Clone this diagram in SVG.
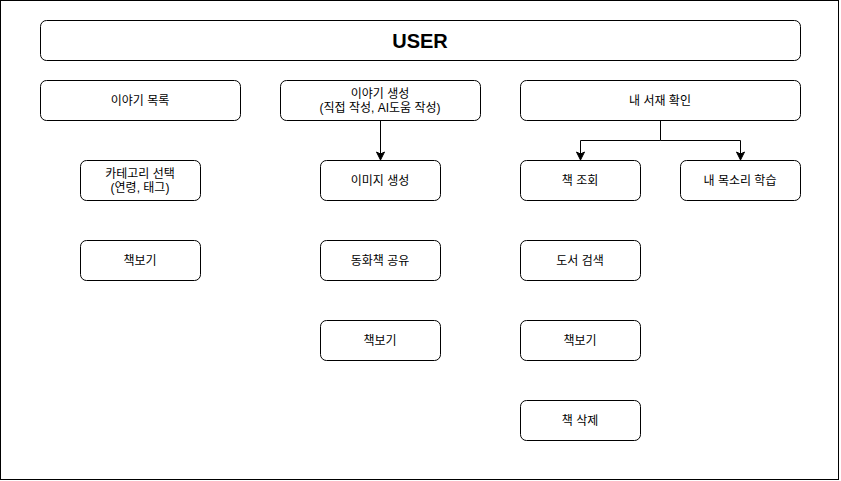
<svg xmlns="http://www.w3.org/2000/svg" width="841" height="481" viewBox="0 0 841 481">
<style>
.n{fill:#fff;stroke:#000;stroke-width:1}
.t{font-family:"Liberation Sans","Noto Sans CJK KR",sans-serif;font-size:12px;fill:#000;text-anchor:middle}
.b{font-family:"Liberation Sans","Noto Sans CJK KR",sans-serif;font-size:20px;font-weight:bold;fill:#000;text-anchor:middle}
.c{fill:none;stroke:#000;stroke-width:1}
</style>
<defs>
<marker id="a" markerWidth="10" markerHeight="10" refX="8" refY="5" orient="auto" markerUnits="userSpaceOnUse">
<path d="M1,1 L9,5 L1,9 L3,5 Z" fill="#000" stroke="#000" stroke-width="1"/>
</marker>
</defs>
<rect x="0.5" y="0.5" width="838" height="479" fill="#fff" stroke="#000"/>
<g id="user"><rect class="n" x="40.5" y="20.5" width="760" height="40" rx="6"/><text class="b" x="420" y="47.5">USER</text></g>
<g id="story-list"><rect class="n" x="40.5" y="80.5" width="200" height="40" rx="6"/><text class="t" x="140" y="105">이야기 목록</text></g>
<g id="story-create"><rect class="n" x="280.5" y="80.5" width="200" height="40" rx="6"/><text class="t" x="380" y="98">이야기 생성</text><text class="t" x="380" y="112">(직접 작성, AI도움 작성)</text></g>
<g id="my-library"><rect class="n" x="520.5" y="80.5" width="280" height="40" rx="6"/><text class="t" x="660" y="105">내 서재 확인</text></g>
<g id="category"><rect class="n" x="80.5" y="160.5" width="120" height="40" rx="6"/><text class="t" x="140" y="178">카테고리 선택</text><text class="t" x="140" y="192">(연령, 태그)</text></g>
<g id="image-gen"><rect class="n" x="320.5" y="160.5" width="120" height="40" rx="6"/><text class="t" x="380" y="185">이미지 생성</text></g>
<g id="book-view"><rect class="n" x="520.5" y="160.5" width="120" height="40" rx="6"/><text class="t" x="580" y="185">책 조회</text></g>
<g id="voice"><rect class="n" x="680.5" y="160.5" width="120" height="40" rx="6"/><text class="t" x="740" y="185">내 목소리 학습</text></g>
<g id="read1"><rect class="n" x="80.5" y="240.5" width="120" height="40" rx="6"/><text class="t" x="140" y="265">책보기</text></g>
<g id="share"><rect class="n" x="320.5" y="240.5" width="120" height="40" rx="6"/><text class="t" x="380" y="265">동화책 공유</text></g>
<g id="search"><rect class="n" x="520.5" y="240.5" width="120" height="40" rx="6"/><text class="t" x="580" y="265">도서 검색</text></g>
<g id="read2"><rect class="n" x="320.5" y="320.5" width="120" height="40" rx="6"/><text class="t" x="380" y="345">책보기</text></g>
<g id="read3"><rect class="n" x="520.5" y="320.5" width="120" height="40" rx="6"/><text class="t" x="580" y="345">책보기</text></g>
<g id="delete"><rect class="n" x="520.5" y="400.5" width="120" height="40" rx="6"/><text class="t" x="580" y="425">책 삭제</text></g>
<g id="connectors">
<path class="c" d="M380.5,120.5 V159" marker-end="url(#a)"/>
<path class="c" d="M660.5,120.5 V140.5 H580.5 V159" marker-end="url(#a)"/>
<path class="c" d="M660.5,140.5 H740.5 V159" marker-end="url(#a)"/>
</g>
</svg>
